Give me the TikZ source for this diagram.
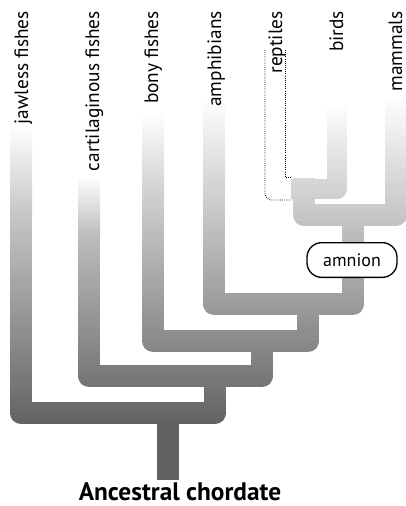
\documentclass[tikz,border=0pt]{standalone}
\usepackage{fontspec}
\setsansfont{PT Sans}
\usetikzlibrary{calc}

\begin{document}
\begin{tikzpicture}[x=0.75pt,y=0.75pt,yscale=-1,xscale=1,
  branch/.style={line width=16.5pt, line join=round},
  twig/.style={branch, line width=14.5pt},
  taxon/.style={font=\sffamily\fontsize{14.5}{16}\selectfont, rotate=90, anchor=base east, inner sep=0pt},
  outline/.style={densely dotted, line width=0.6pt}]
\useasboundingbox (0,0) rectangle (406,506);

% tips and branch points
\coordinate (root) at (168,480);
\coordinate (j) at (21,125);
\coordinate (c) at (89,176);
\coordinate (b) at (153,112);
\coordinate (a) at (214,98);
\coordinate (bd) at (337,103);
\coordinate (m) at (396,95);
\coordinate (k1) at (215,413);
\coordinate (k2) at (262,376);
\coordinate (k3) at (308,341);
\coordinate (k4) at (353,304);
\coordinate (k5) at (396,215);
\coordinate (k6) at (304,178);
\coordinate (k7) at (291,189);

% tree, in bands from light (top) to dark (bottom)
\foreach \y in {90,96,...,486} {
  \pgfmathsetmacro\shadeval{min(62,max(0,(\y-95)/330*62))}
  \begin{scope}
    \clip (-10,\y-0.5) rectangle (416,\y+6);
    \begin{scope}[draw=black!\shadeval]
      \draw[branch] (root) -- (root |- k1);
      \draw[branch] (j) |- (k1) -- (k1 |- k2);
      \draw[branch] (c) |- (k2) -- (k2 |- k3);
      \draw[branch] (b) |- (k3) -- (k3 |- k4);
      \draw[branch] (a) |- (k4) -- (k4 |- k5);
      \draw[branch] (k6) |- (k5) -- (m);
      \draw[twig] (bd) |- (k7);
    \end{scope}
  \end{scope}
}

% tips fade out to white
\foreach \tip/\w/\l in {j/11/90, c/11/60, b/11/90, a/11/90, bd/9.7/60, m/11/80} {
  \path (\tip); \pgfgetlastxy{\tx}{\ty}
  \pgfmathsetmacro\shadeval{min(62,max(0,(-\ty/0.75+\l-95)/330*62))}
  \shade[top color=white, bottom color=black!\shadeval]
    ($(\tip)+(-\w,0)$) rectangle ($(\tip)+(\w,\l)$);
}

% reptiles (outline only)
\coordinate (rl) at (265,50);
\coordinate (rr) at (285,50);
\draw[outline, rounded corners=5] (rl) |- (291,200);
\draw[outline] (rr) |- (k7 |- 0,177);

\node[draw, line width=1pt, fill=white, rounded corners=11pt, minimum width=67.5pt, minimum height=26pt,
  font=\sffamily\fontsize{13.5}{15}\selectfont] (amnion) at (352,260) {amnion};

% Text Node
\node[taxon] (jawless) at (28,11) {jawless fishes};
\node[taxon] (cartilaginous) at (99,11) {cartilaginous fishes};
\node[taxon] (bony) at (158,11) {bony fishes};
\node[taxon] (amphibians) at (221,11) {amphibians};
\node[taxon] (reptiles) at (282,11) {reptiles};
\node[taxon] (birds) at (343,11) {birds};
\node[taxon] (mammals) at (402,11) {mammals};
\node[font=\sffamily\bfseries\fontsize{19}{22}\selectfont, anchor=base] (ancestor) at (180,500) {Ancestral chordate};
\end{tikzpicture}
\end{document}
